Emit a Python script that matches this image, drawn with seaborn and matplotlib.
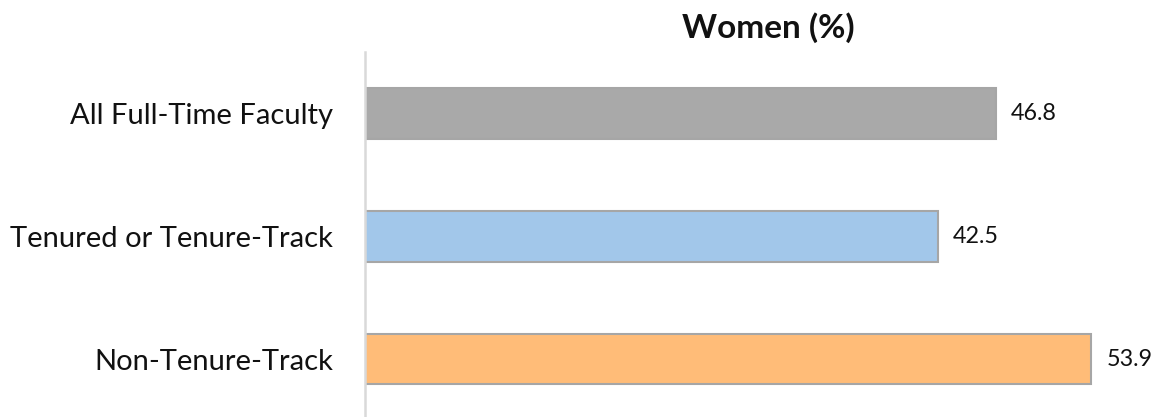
import pandas as pd
import matplotlib.pyplot as plt
import seaborn as sns

categories = ["All Full-Time Faculty", "Tenured or Tenure-Track", "Non-Tenure-Track"]
women_pct = [46.8, 42.5, 53.9]
bar_colors = ["#A9A9A9", "#A2C7EA", "#FFBC78"]

df = pd.DataFrame({"Category": categories, "Women": women_pct})

sns.set_style("white")
plt.rcParams["font.family"] = ["Lato", "DejaVu Sans"]

fig = plt.figure(figsize=(11.6, 4.17), dpi=100)
ax = fig.add_axes([365 / 1160, 0.0, (1160 - 365) / 1160, (417 - 52) / 417])

sns.barplot(data=df, x="Women", y="Category", hue="Category", palette=bar_colors,
            saturation=1, legend=False, width=0.41, edgecolor="#A6A6A6",
            linewidth=1.5, ax=ax)

for i, v in enumerate(women_pct):
    ax.text(v + 1.15, i, f"{v:.1f}", va="center", ha="left", fontsize=16.8, color="#111111")

ax.set_xlim(0, 59)
ax.set_ylim(2.47, -0.5)
ax.set_xlabel("")
ax.set_ylabel("")
ax.set_xticks([])
ax.tick_params(axis="y", length=0, pad=23, labelsize=21, labelcolor="#111111")
for s in ["top", "right", "bottom"]:
    ax.spines[s].set_visible(False)
ax.spines["left"].set_color("#D9D9D9")
ax.spines["left"].set_linewidth(1.8)

fig.text(768 / 1160, 1 - 28 / 417, "Women (%)", ha="center", va="center",
         fontsize=24, fontweight="bold", color="#111111")

fig.savefig("out.png", dpi=100)
